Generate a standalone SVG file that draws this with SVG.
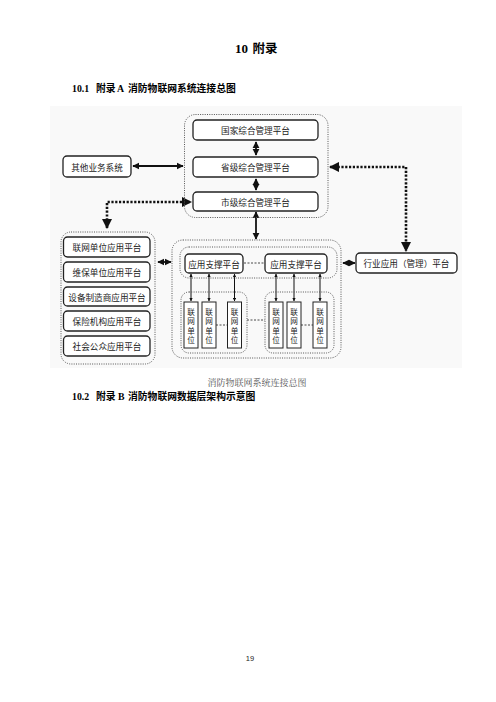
<svg xmlns="http://www.w3.org/2000/svg" width="496" height="702" viewBox="0 0 496 702">
<style>
.h{font-family:"Liberation Serif","Noto Sans CJK SC",serif;font-weight:bold;fill:#000}
.t{font-family:"Noto Sans CJK SC","Noto Sans",sans-serif;font-size:8.6px;fill:#222;text-anchor:middle;dominant-baseline:central}
.u{font-size:7.6px}
.box{fill:#fff;stroke:#222;stroke-width:1.3}
.ub{fill:#fff;stroke:#222;stroke-width:1}
.grp{fill:none;stroke:#555;stroke-width:1;stroke-dasharray:1 1.3}
.ln{fill:none;stroke:#111;stroke-width:1.8}
.thin{fill:none;stroke:#111;stroke-width:1}
.dot{fill:none;stroke:#111;stroke-width:2.6;stroke-dasharray:2.2 1.6}
.dash{fill:none;stroke:#333;stroke-width:0.9;stroke-dasharray:2 1.5}
</style>
<defs>
<marker id="a" viewBox="0 0 10 10" refX="9" refY="5" markerWidth="4" markerHeight="4" orient="auto-start-reverse"><path d="M0,0L10,5L0,10z" fill="#111"/></marker>
<marker id="d" viewBox="0 0 10 10" refX="9" refY="5" markerWidth="3.2" markerHeight="3.2" orient="auto-start-reverse"><path d="M0,0L10,5L0,10z" fill="#111"/></marker>
</defs>
<rect width="496" height="702" fill="#fff"/>
<rect x="50" y="106" width="412" height="262" fill="#f9f9f9"/>
<text class="h"><tspan x="235" y="53" font-size="13">10</tspan><tspan x="252.5" y="53" font-size="12.5">附录</tspan></text>
<text class="h" font-size="9.8"><tspan x="72" y="92">10.1</tspan><tspan x="96" y="92">附录</tspan><tspan x="117" y="92">A</tspan><tspan x="128" y="92">消防物联网系统连接总图</tspan></text>

<g id="connectors">
<line class="ln" x1="256" y1="142" x2="256" y2="155" marker-start="url(#a)" marker-end="url(#a)"/>
<line class="ln" x1="256" y1="179" x2="256" y2="190" marker-start="url(#a)" marker-end="url(#a)"/>
<line class="ln" x1="133" y1="166" x2="183" y2="166" marker-start="url(#a)" marker-end="url(#a)"/>
<line class="ln" x1="256" y1="212" x2="256" y2="239" marker-start="url(#a)" marker-end="url(#a)"/>
<polyline class="dot" points="107,228 107,202 191,202" marker-start="url(#a)" marker-end="url(#a)"/>
<polyline class="dot" points="330,167 406,167 406,251" marker-start="url(#a)" marker-end="url(#a)"/>
<line class="ln" x1="158" y1="262" x2="171" y2="262" marker-start="url(#a)" marker-end="url(#a)"/>
<line class="ln" x1="343" y1="263" x2="355" y2="263" marker-start="url(#a)" marker-end="url(#a)"/>
<line class="dash" x1="244" y1="263" x2="264" y2="263"/>
<g marker-start="url(#d)" marker-end="url(#d)">
<line class="thin" x1="191" y1="274" x2="191" y2="301"/>
<line class="thin" x1="209" y1="274" x2="209" y2="301"/>
<line class="thin" x1="234.5" y1="274" x2="234.5" y2="301"/>
<line class="thin" x1="276" y1="274" x2="276" y2="301"/>
<line class="thin" x1="294" y1="274" x2="294" y2="301"/>
<line class="thin" x1="320" y1="274" x2="320" y2="301"/>
</g>
<line class="dash" x1="216" y1="325" x2="227" y2="325"/>
<line class="dash" x1="301" y1="325" x2="313" y2="325"/>
<line class="dash" x1="247" y1="320" x2="265" y2="320"/>
</g>

<g id="top-group"><rect class="grp" x="184.5" y="114.5" width="143.5" height="103" rx="11"/></g>
<g id="n-guojia"><rect class="box" x="193" y="120" width="125" height="20" rx="4"/><text class="t" x="255.5" y="130">国家综合管理平台</text></g>
<g id="n-shengji"><rect class="box" x="193" y="157" width="125" height="20" rx="4"/><text class="t" x="255.5" y="167">省级综合管理平台</text></g>
<g id="n-shiji"><rect class="box" x="193" y="192" width="125" height="19" rx="4"/><text class="t" x="255.5" y="201.5">市级综合管理平台</text></g>
<g id="n-other"><rect class="box" x="63" y="156" width="68" height="21" rx="4"/><text class="t" x="97" y="166.5">其他业务系统</text></g>
<g id="n-hangye"><rect class="box" x="356" y="253" width="101" height="20" rx="4"/><text class="t" x="406.5" y="263">行业应用（管理）平台</text></g>

<g id="left-group">
<rect class="grp" x="61" y="232" width="94" height="132" rx="10"/>
<rect class="box" x="63.5" y="237" width="86.5" height="20" rx="4"/><text class="t" x="107" y="247">联网单位应用平台</text>
<rect class="box" x="63.5" y="262" width="86.5" height="20" rx="4"/><text class="t" x="107" y="272">维保单位应用平台</text>
<rect class="box" x="63.5" y="287" width="86.5" height="19" rx="4"/><text class="t" x="107" y="296.5">设备制造商应用平台</text>
<rect class="box" x="63.5" y="311" width="86.5" height="20" rx="4"/><text class="t" x="107" y="321">保险机构应用平台</text>
<rect class="box" x="63.5" y="336" width="86.5" height="20" rx="4"/><text class="t" x="107" y="346">社会公众应用平台</text>
</g>

<g id="center-group">
<rect class="grp" x="172" y="240" width="169" height="118" rx="11"/>
<rect class="grp" x="180" y="247" width="157" height="31" rx="9"/>
<rect class="grp" x="181" y="292" width="66" height="61" rx="8"/>
<rect class="grp" x="265" y="292" width="69" height="61" rx="8"/>
</g>
<g id="n-support1"><rect class="box" x="185" y="254" width="58" height="19" rx="4"/><text class="t" x="214" y="263.5">应用支撑平台</text></g>
<g id="n-support2"><rect class="box" x="265" y="254" width="62" height="19" rx="4"/><text class="t" x="296" y="263.5">应用支撑平台</text></g>

<g id="units">
<g id="u1"><rect class="ub" x="184" y="302" width="14" height="46"/><text class="t u" x="191" y="310.5"><tspan x="191">联</tspan><tspan x="191" dy="9.6">网</tspan><tspan x="191" dy="9.6">单</tspan><tspan x="191" dy="9.6">位</tspan></text></g>
<g id="u2"><rect class="ub" x="202" y="302" width="14" height="46"/><text class="t u" x="209" y="310.5"><tspan x="209">联</tspan><tspan x="209" dy="9.6">网</tspan><tspan x="209" dy="9.6">单</tspan><tspan x="209" dy="9.6">位</tspan></text></g>
<g id="u3"><rect class="ub" x="227.5" y="302" width="14" height="46"/><text class="t u" x="234.5" y="310.5"><tspan x="234.5">联</tspan><tspan x="234.5" dy="9.6">网</tspan><tspan x="234.5" dy="9.6">单</tspan><tspan x="234.5" dy="9.6">位</tspan></text></g>
<g id="u4"><rect class="ub" x="269" y="302" width="14" height="46"/><text class="t u" x="276" y="310.5"><tspan x="276">联</tspan><tspan x="276" dy="9.6">网</tspan><tspan x="276" dy="9.6">单</tspan><tspan x="276" dy="9.6">位</tspan></text></g>
<g id="u5"><rect class="ub" x="287" y="302" width="14" height="46"/><text class="t u" x="294" y="310.5"><tspan x="294">联</tspan><tspan x="294" dy="9.6">网</tspan><tspan x="294" dy="9.6">单</tspan><tspan x="294" dy="9.6">位</tspan></text></g>
<g id="u6"><rect class="ub" x="313" y="302" width="14" height="46"/><text class="t u" x="320" y="310.5"><tspan x="320">联</tspan><tspan x="320" dy="9.6">网</tspan><tspan x="320" dy="9.6">单</tspan><tspan x="320" dy="9.6">位</tspan></text></g>
</g>

<text x="257" y="386" font-family="Liberation Serif,Noto Serif CJK SC,Noto Sans CJK SC,serif" font-size="9" fill="#555" text-anchor="middle">消防物联网系统连接总图</text>
<text class="h" font-size="9.8"><tspan x="72" y="400">10.2</tspan><tspan x="96" y="400">附录</tspan><tspan x="118" y="400">B</tspan><tspan x="128" y="400">消防物联网数据层架构示意图</tspan></text>
<text x="250" y="661" font-family="Liberation Sans,sans-serif" font-size="7.5" fill="#222" text-anchor="middle">19</text>
</svg>
